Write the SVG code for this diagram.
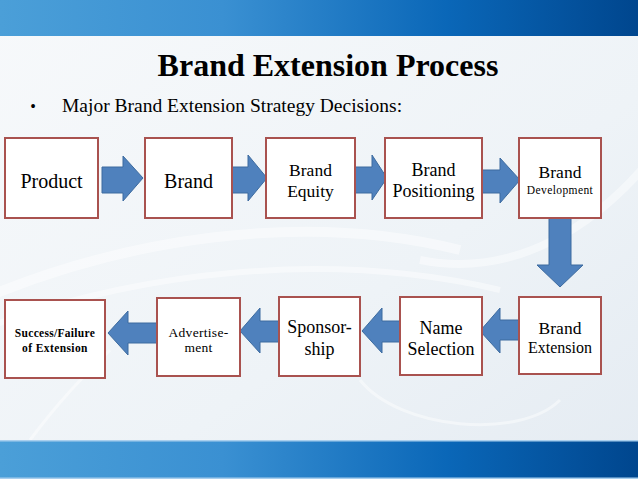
<svg xmlns="http://www.w3.org/2000/svg" width="638" height="479" viewBox="0 0 638 479">
<defs>
<linearGradient id="bg" x1="0" y1="0" x2="1" y2="1">
<stop offset="0" stop-color="#f7f9fb"/>
<stop offset="0.6" stop-color="#eef3f7"/>
<stop offset="1" stop-color="#e4ebf2"/>
</linearGradient>
<linearGradient id="band" x1="0" y1="0" x2="1" y2="0">
<stop offset="0" stop-color="#4b9fd8"/>
<stop offset="0.35" stop-color="#3a90d2"/>
<stop offset="0.7" stop-color="#0a67b8"/>
<stop offset="1" stop-color="#00468e"/>
</linearGradient>
<style>
.box{fill:#ffffff;stroke:#a9524f;stroke-width:2}
.arr{fill:#4f81bd;stroke:#3d6b9f;stroke-width:1}
.t{font-family:"Times New Roman","Liberation Serif",Tinos,serif;fill:#000;text-anchor:middle}
.sw{fill:none;stroke:#ffffff;stroke-opacity:0.45}
</style>
</defs>
<rect x="0" y="0" width="638" height="479" fill="url(#bg)"/>
<g id="swooshes">
<path class="sw" stroke-width="10" d="M-20 300 C 120 240 300 210 460 250"/>
<path class="sw" stroke-width="6" d="M-20 330 C 140 270 330 250 500 290"/>
<path class="sw" stroke-width="3" stroke-opacity="0.35" d="M360 380 C 400 430 520 440 560 400"/>
<path class="sw" stroke-width="3" stroke-opacity="0.35" d="M30 440 C 60 400 80 380 110 350"/>
<path class="sw" stroke-width="8" stroke-opacity="0.35" d="M420 260 C 520 280 600 220 650 160"/>
</g>
<rect x="0" y="0" width="638" height="36" fill="url(#band)"/>
<rect x="0" y="441" width="638" height="38" fill="url(#band)"/>
<rect x="0" y="440" width="638" height="1.5" fill="#a9cfee"/>
<rect x="0" y="477.5" width="638" height="1.5" fill="#a9cfee"/>
<text class="t" x="328" y="76" font-size="32" font-weight="bold">Brand Extension Process</text>
<text class="t" x="33" y="112" font-size="16">•</text>
<text class="t" x="62" y="112" font-size="19.5" text-anchor="start" style="text-anchor:start">Major Brand Extension Strategy Decisions:</text>
<g id="connectors">
<polygon class="arr" points="102,167 123,167 123,156 143,178 123,201 123,193 102,193"/>
<polygon class="arr" points="232,167 248,167 248,155 267,178 248,201 248,193 232,193"/>
<polygon class="arr" points="355,167 372,167 372,155 387,178 372,200 372,193 355,193"/>
<polygon class="arr" points="482,170 500,170 500,158 520,180 500,203 500,193 482,193"/>
<polygon class="arr" points="549,218 571,218 571,265 583,265 560,287 537,265 549,265"/>
<polygon class="arr" points="519,320 500,320 500,308 480,331 500,353 500,340 519,340"/>
<polygon class="arr" points="401,321 382,321 382,308 362,331 382,353 382,342 401,342"/>
<polygon class="arr" points="279,321 260,321 260,308 240,331 260,353 260,342 279,342"/>
<polygon class="arr" points="158,323 128,323 128,311 108,333 128,355 128,343 158,343"/>
</g>
<g id="product"><rect class="box" x="5" y="138" width="93" height="80"/><text class="t" x="51.5" y="188" font-size="20">Product</text></g>
<g id="brand"><rect class="box" x="145" y="138" width="87" height="80"/><text class="t" x="188.5" y="188" font-size="20">Brand</text></g>
<g id="brand-equity"><rect class="box" x="266" y="138" width="89" height="80"/><text class="t" x="310.5" y="176" font-size="17.5">Brand</text><text class="t" x="310.5" y="197" font-size="17.5">Equity</text></g>
<g id="brand-positioning"><rect class="box" x="385" y="138" width="97" height="80"/><text class="t" x="433.5" y="176" font-size="18">Brand</text><text class="t" x="433.5" y="197" font-size="18">Positioning</text></g>
<g id="brand-development"><rect class="box" x="519" y="138" width="82" height="80"/><text class="t" x="560" y="178" font-size="17.5">Brand</text><text class="t" x="560" y="194" font-size="11.5" letter-spacing="0.4">Development</text></g>
<g id="brand-extension"><rect class="box" x="519" y="297" width="82" height="77"/><text class="t" x="560" y="334" font-size="17.5">Brand</text><text class="t" x="560" y="353" font-size="16">Extension</text></g>
<g id="name-selection"><rect class="box" x="400" y="297" width="82" height="78"/><text class="t" x="441" y="334" font-size="18">Name</text><text class="t" x="441" y="355" font-size="18">Selection</text></g>
<g id="sponsorship"><rect class="box" x="279" y="297" width="81" height="79"/><text class="t" x="319.5" y="333" font-size="18">Sponsor-</text><text class="t" x="319.5" y="355" font-size="18">ship</text></g>
<g id="advertisement"><rect class="box" x="157" y="298" width="83" height="78"/><text class="t" x="198.5" y="337" font-size="13.5" letter-spacing="0.3">Advertise-</text><text class="t" x="198.5" y="352" font-size="13.5" letter-spacing="0.3">ment</text></g>
<g id="success-failure"><rect class="box" x="5" y="300" width="100" height="78"/><text class="t" x="55" y="337" font-size="11.5" font-weight="bold" letter-spacing="0.3">Success/Failure</text><text class="t" x="55" y="352" font-size="11.5" font-weight="bold" letter-spacing="0.4">of Extension</text></g>
</svg>
